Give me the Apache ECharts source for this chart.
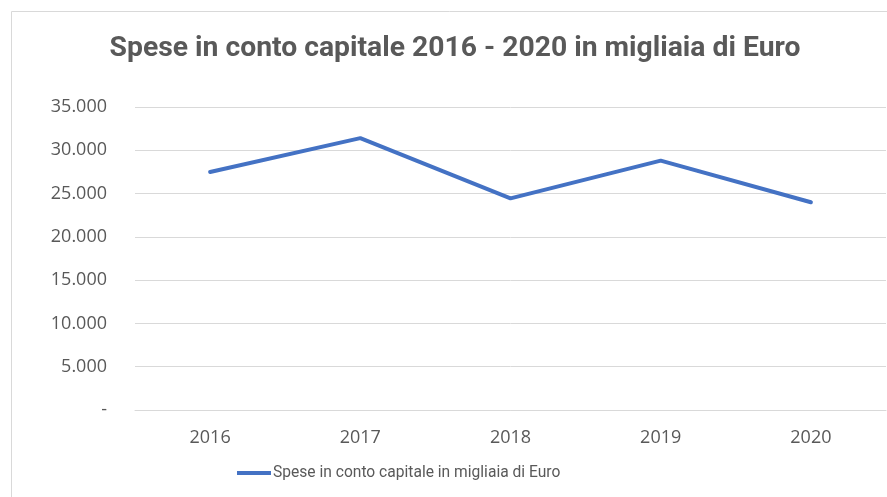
<!DOCTYPE html>
<html>
<head>
<meta charset="utf-8">
<script src="https://cdn.jsdelivr.net/npm/echarts@6/dist/echarts.min.js"></script>
<style>
  html, body { margin: 0; padding: 0; background: #fff; }
  #chart { width: 887px; height: 497px; }
</style>
</head>
<body>
<div id="chart"></div>
<script>
const years = ['2016', '2017', '2018', '2019', '2020']
const spese = [27500, 31400, 24450, 28800, 24000]
const seriesName = 'Spese in conto capitale in migliaia di Euro'
const titleText = 'Spese in conto capitale 2016 - 2020 in migliaia di Euro'

// 35000 -> "35.000", 0 -> "-"
function fmt(v) {
  if (v === 0) return '-'
  return String(v).replace(/\B(?=(\d{3})+(?!\d))/g, '.')
}

const chart = echarts.init(document.getElementById('chart'))

chart.setOption({
  animation: false,
  graphic: [
    {
      type: 'rect',
      shape: { x: 11.5, y: 11.5, width: 900, height: 520 },
      style: { fill: 'none', stroke: '#d9d9d9', lineWidth: 1 },
      silent: true
    }
  ],
  title: {
    text: titleText,
    left: 450,
    textAlign: 'center',
    top: 30,
    textStyle: {
      fontFamily: 'Roboto, sans-serif',
      fontWeight: 'bold',
      fontSize: 28.3,
      color: '#595959'
    }
  },
  legend: {
    data: [seriesName],
    left: 232,
    top: 460,
    itemWidth: 34,
    itemHeight: 4,
    itemGap: 2,
    icon: 'rect',
    textStyle: {
      fontFamily: 'Roboto, sans-serif',
      fontSize: 15.6,
      color: '#595959',
      padding: [0, 0, 0, -3]
    }
  },
  grid: {
    left: 135,
    right: 1,
    top: 107,
    bottom: 87
  },
  xAxis: {
    type: 'category',
    data: years,
    axisLine: { lineStyle: { color: '#d9d9d9', width: 1 } },
    axisTick: { show: false },
    axisLabel: {
      margin: 19,
      fontFamily: 'Open Sans, sans-serif',
      fontSize: 18,
      color: '#595959'
    }
  },
  yAxis: {
    type: 'value',
    min: 0,
    max: 35000,
    interval: 5000,
    axisLine: { show: false },
    axisTick: { show: false },
    splitLine: { lineStyle: { color: '#d9d9d9', width: 1 } },
    axisLabel: {
      margin: 28,
      formatter: fmt,
      fontFamily: 'Open Sans, sans-serif',
      fontSize: 18,
      color: '#595959'
    }
  },
  series: [
    {
      name: seriesName,
      type: 'line',
      data: spese,
      showSymbol: false,
      symbol: 'none',
      lineStyle: { color: '#4472C4', width: 4, cap: 'round', join: 'round' },
      itemStyle: { color: '#4472C4' }
    }
  ]
})
</script>
</body>
</html>
